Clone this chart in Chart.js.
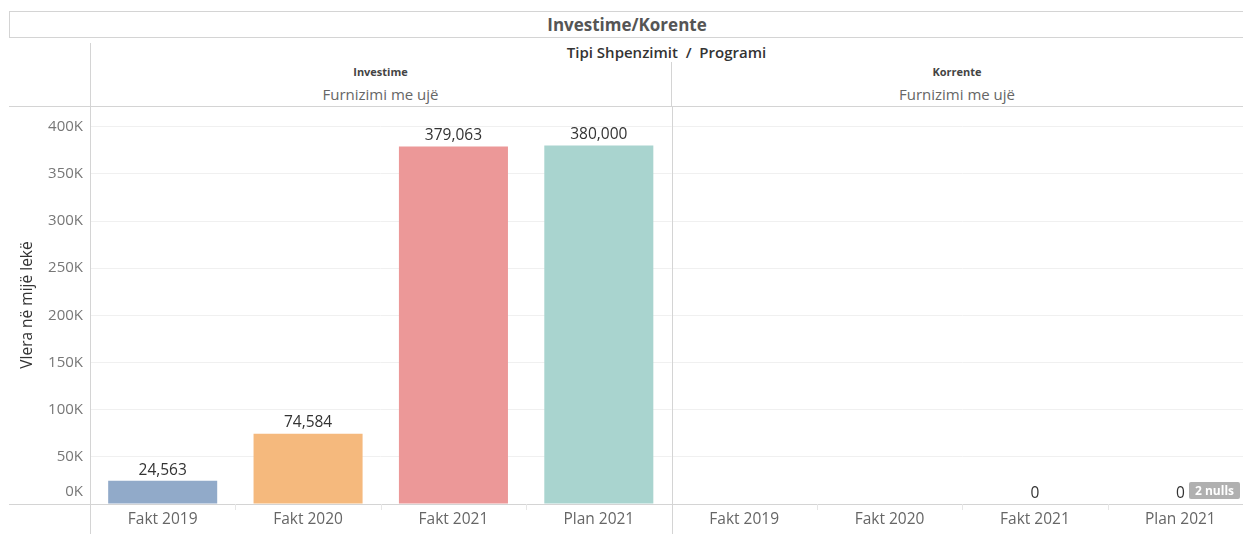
<!DOCTYPE html>
<html>
<head>
<meta charset="utf-8">
<script src="https://cdn.jsdelivr.net/npm/chart.js@4"></script>
<style>
  body { margin: 0; background: #fff; font-family: "Open Sans", "Noto Sans", sans-serif; }
  #page { position: relative; width: 1243px; height: 534px; overflow: hidden; }
  .abs { position: absolute; }
  #title { left: 9px; top: 11px; width: 1234px; height: 25px; border: 1px solid #d4d4d4; border-right: none;
           text-align: center; line-height: 25px; font-size: 17px; font-weight: bold; color: #555; }
  .hdr { text-align: center; white-space: nowrap; }
  #wrap { left: 0; top: 106px; width: 1253px; height: 428px; }
  #nulls { left: 1189px; top: 482px; width: 51px; height: 17px; background: #b0b0b0; color: #fff;
           font-size: 12px; font-weight: bold; line-height: 17px; text-align: center; border-radius: 2px; }
</style>
</head>
<body>
<div id="page">
  <div id="title" class="abs">Investime/Korente</div>
  <div class="abs" style="left:90px;top:43px;width:1px;height:63px;background:#d4d4d4"></div>
  <div class="abs" style="left:671px;top:62px;width:1px;height:44px;background:#d4d4d4"></div>
  <div class="abs hdr" style="left:90px;top:42px;width:1153px;font-size:15px;font-weight:600;color:#333">Tipi Shpenzimit &nbsp;/&nbsp; Programi</div>
  <div class="abs hdr" style="left:90px;top:64px;width:581px;font-size:11px;font-weight:bold;color:#444">Investime</div>
  <div class="abs hdr" style="left:671px;top:64px;width:572px;font-size:11px;font-weight:bold;color:#444">Korrente</div>
  <div class="abs hdr" style="left:90px;top:84px;width:581px;font-size:15px;color:#666">Furnizimi me ujë</div>
  <div class="abs hdr" style="left:671px;top:84px;width:572px;font-size:15px;color:#666">Furnizimi me ujë</div>
  <div id="wrap" class="abs"><canvas id="chart"></canvas></div>
  <div id="nulls" class="abs">2 nulls</div>
</div>
<script>
var categories = ['Fakt 2019', 'Fakt 2020', 'Fakt 2021', 'Plan 2021'];
var groups = ['Investime', 'Korrente'];
var investimeValues = [24563, 74584, 379063, 380000];
var korrenteValues = [null, null, 0, 0];
var yTicks = [0, 50000, 100000, 150000, 200000, 250000, 300000, 350000, 400000];
var barColors = ['#91aac9', '#f5b97d', '#ec9898', '#a9d4cf'];

var lineColor = '#d4d4d4';
var font = '"Open Sans", "Noto Sans", sans-serif';

// one long axis, the two groups side by side
var labels = categories.concat(categories);
var values = investimeValues.concat(korrenteValues);
var colors = barColors.concat(barColors);

var fmtK = function(v) { return (v / 1000) + 'K'; };

var frame = {
    id: 'frame',
    afterDraw: function(chart) {
        var c = chart.ctx, a = chart.chartArea, x = chart.scales.x, y = chart.scales.y;
        var n = categories.length;
        var half = x.width / labels.length / 2;
        c.save();
        c.strokeStyle = lineColor;
        c.lineWidth = 1;
        c.beginPath();
        c.moveTo(9, a.top + 0.5); c.lineTo(chart.width, a.top + 0.5);
        c.moveTo(9, a.bottom + 0.5); c.lineTo(chart.width, a.bottom + 0.5);
        for (var g = 0; g < groups.length; g++) {
            var px = Math.round(x.getPixelForValue(g * n) - half) + 0.5;
            c.moveTo(px, a.top); c.lineTo(px, chart.height);
        }
        c.stroke();
        c.strokeStyle = '#e6e6e6';
        c.beginPath();
        for (var i = 1; i < labels.length; i++) {
            if (i % n === 0) continue;
            var bx = Math.round(x.getPixelForValue(i) - half) + 0.5;
            c.moveTo(bx, a.bottom); c.lineTo(bx, a.bottom + 6);
        }
        c.stroke();
        // zero tick label sits just above the baseline
        c.font = '15px ' + font;
        c.fillStyle = '#777';
        c.textAlign = 'right';
        c.textBaseline = 'middle';
        c.fillText(fmtK(yTicks[0]), a.left - 7, y.getPixelForValue(yTicks[0]) - 12);
        c.restore();
    },
    afterDatasetsDraw: function(chart) {
        var c = chart.ctx;
        var meta = chart.getDatasetMeta(0);
        c.save();
        c.font = '15.5px ' + font;
        c.fillStyle = '#333';
        c.textAlign = 'center';
        c.textBaseline = 'bottom';
        meta.data.forEach(function(bar, i) {
            var v = values[i];
            if (v === null) return;
            c.fillText(v.toLocaleString('en-US'), bar.x, bar.y - 3);
        });
        c.restore();
    }
};

new Chart(document.getElementById('chart'), {
    type: 'bar',
    data: {
        labels: labels,
        datasets: [{
            data: values,
            backgroundColor: colors,
            borderWidth: 0,
            barPercentage: 0.75,
            categoryPercentage: 1
        }]
    },
    options: {
        responsive: true,
        maintainAspectRatio: false,
        animation: false,
        layout: { padding: { left: 18, top: 0, right: 0, bottom: 0 } },
        plugins: { legend: { display: false }, tooltip: { enabled: false } },
        scales: {
            x: {
                grid: { display: false },
                border: { display: false },
                ticks: { color: '#666', font: { size: 15.5, family: font }, padding: -2, maxRotation: 0, autoSkip: false },
                afterFit: function(s) { s.height = 30; s.paddingLeft = 0; s.paddingRight = 0; }
            },
            y: {
                min: 0,
                max: 422000,
                afterBuildTicks: function(s) { s.ticks = yTicks.map(function(v) { return { value: v }; }); },
                grid: { color: '#f0f0f0', drawTicks: false },
                border: { display: false },
                ticks: {
                    color: '#777',
                    padding: 7,
                    font: { size: 15, family: font },
                    callback: function(v) { return v === yTicks[0] ? '' : fmtK(v); }
                },
                title: {
                    display: true,
                    text: 'Vlera në mijë lekë',
                    color: '#333',
                    font: { size: 15.5, family: font },
                    padding: 0
                },
                afterFit: function(s) { s.width = 72; s.paddingTop = 0; s.paddingBottom = 0; }
            }
        }
    },
    plugins: [frame]
});
</script>
</body>
</html>
